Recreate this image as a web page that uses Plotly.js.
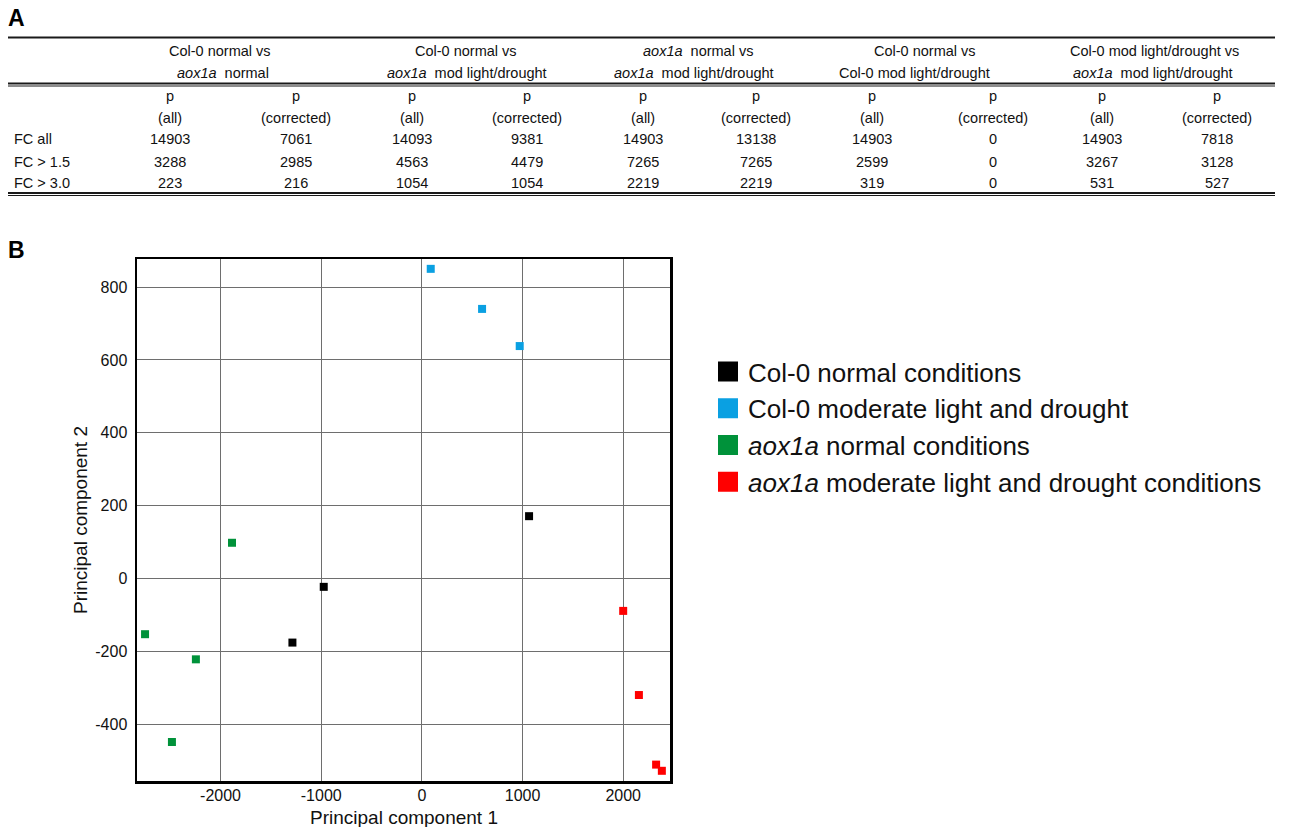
<!DOCTYPE html>
<html><head><meta charset="utf-8">
<script src="https://cdn.plot.ly/plotly-3.0.1.min.js"></script>
<style>html,body{margin:0;padding:0;background:#fff;} #chart{width:1289px;height:827px;}</style>
</head><body><div id="chart"></div>
<script>
// ---- Table A data ----
const comparisonLine1 = ['Col-0 normal vs', 'Col-0 normal vs', '<i>aox1a</i>\u00a0\u00a0normal vs', 'Col-0 normal vs', 'Col-0 mod light/drought vs'];
const comparisonLine2 = ['<i>aox1a</i>\u00a0\u00a0normal', '<i>aox1a</i>\u00a0\u00a0mod light/drought', '<i>aox1a</i>\u00a0\u00a0mod light/drought', 'Col-0 mod light/drought', '<i>aox1a</i>\u00a0\u00a0mod light/drought'];
const pLabels = ['(all)', '(corrected)'];
const rowLabels = ['FC all', 'FC > 1.5', 'FC > 3.0'];
const fcAll = [14903, 7061, 14093, 9381, 14903, 13138, 14903, 0, 14903, 7818];
const fc15  = [3288, 2985, 4563, 4479, 7265, 7265, 2599, 0, 3267, 3128];
const fc30  = [223, 216, 1054, 1054, 2219, 2219, 319, 0, 531, 527];

// ---- PCA data (B) ----
const seriesNames = ['Col-0 normal conditions', 'Col-0 moderate light and drought', '<i>aox1a</i> normal conditions', '<i>aox1a</i> moderate light and drought conditions'];
const col0NormalPC1 = [1065, -975, -1286];
const col0NormalPC2 = [171, -23, -176];
const col0ModPC1 = [88, 598, 972];
const col0ModPC2 = [850, 740, 638];
const aoxNormalPC1 = [-1886, -2750, -2245, -2483];
const aoxNormalPC2 = [98, -153, -222, -449];
const aoxModPC1 = [2000, 2156, 2327, 2384];
const aoxModPC2 = [-89, -320, -511, -528];
const xTickVals = [-2000, -1000, 0, 1000, 2000];
const xTickText = ['-2000', '-1000', '0', '1000', '2000'];
const yTickVals = [-400, -200, 0, 200, 400, 600, 800];
const yTickText = ['-400', '-200', '0', '200', '400', '600', '800'];

// ---- layout geometry (pixels) ----
const W = 1289, H = 827;
const L = 137, R = 670, T = 259, B = 781;
const PW = R - L, PH = B - T;
const px = x => (x - L) / PW;
const py = y => 1 - (y - T) / PH;
const FONT = 'Liberation Sans, Arial, Helvetica, sans-serif';
const colors = ['#000000', '#0aa0e2', '#00923a', '#ff0000'];

const headX1 = [219.5, 465.5, 697.5, 925, 1154];
const headX2 = [223, 466.5, 694, 914.5, 1153];
const colX = [170, 296, 412, 527, 643, 756, 872, 993, 1102, 1217];
const rowY = [139, 161.5, 183];

const ann = [];
const shapes = [];
function txt(x, y, text, opts) {
  ann.push(Object.assign({xref: 'paper', yref: 'paper', x: px(x), y: py(y), text: text,
    showarrow: false, xanchor: 'center', yanchor: 'middle',
    font: {family: FONT, size: 14.5, color: '#111'}}, opts || {}));
}
function hline(y, w) {
  shapes.push({type: 'line', xref: 'paper', yref: 'paper', x0: px(8), x1: px(1275), y0: py(y), y1: py(y),
    line: {color: '#1a1a1a', width: w}});
}
const esc = s => String(s).replace(/>/g, '&gt;');

// panel letters
txt(16, 18, '<b>A</b>', {font: {family: FONT, size: 23, color: '#000'}});
txt(16, 250, '<b>B</b>', {font: {family: FONT, size: 23, color: '#000'}});

// table lines
hline(37.5, 2);
hline(83.5, 1.8); hline(86, 1);
hline(193, 1.8); hline(195.5, 1);

comparisonLine1.forEach((t, i) => txt(headX1[i], 51, t));
comparisonLine2.forEach((t, i) => txt(headX2[i], 73, t));
colX.forEach((x, i) => { txt(x, 96, 'p'); txt(x, 117.5, pLabels[i % 2]); });
rowLabels.forEach((t, r) => txt(12, rowY[r], esc(t), {xanchor: 'left'}));
[fcAll, fc15, fc30].forEach((row, r) => row.forEach((v, c) => txt(colX[c], rowY[r], String(v))));

// axis titles
txt(403.5, 817, 'Principal component 1', {font: {family: FONT, size: 19, color: '#111'}});
txt(80, 520, 'Principal component 2', {textangle: -90, font: {family: FONT, size: 19, color: '#111'}});

const pcX = [col0NormalPC1, col0ModPC1, aoxNormalPC1, aoxModPC1];
const pcY = [col0NormalPC2, col0ModPC2, aoxNormalPC2, aoxModPC2];
const traces = [];
pcX.forEach((xs, i) => {
  traces.push({type: 'scatter', mode: 'markers', x: xs, y: pcY[i], name: seriesNames[i], showlegend: false,
    marker: {symbol: 'square', size: 8, color: colors[i]}, hoverinfo: 'x+y'});
});
// legend entries
seriesNames.forEach((n, i) => {
  traces.push({type: 'scatter', mode: 'markers', x: [null], y: [null], name: n, showlegend: true,
    marker: {symbol: 'square', size: 16, color: colors[i], line: {color: colors[i], width: 4}}});
});

const axisCommon = {showgrid: true, gridcolor: '#6e6e6e', gridwidth: 1, zeroline: false,
  showline: true, linecolor: '#000', linewidth: 2.5, mirror: true, ticks: '',
  tickfont: {family: FONT, size: 16, color: '#111'}, tickmode: 'array', fixedrange: true};

const layout = {
  width: W, height: H,
  margin: {l: L, r: W - R, t: T, b: H - B, pad: 0, autoexpand: false},
  paper_bgcolor: '#fff', plot_bgcolor: '#fff',
  showlegend: true,
  legend: {x: px(708), y: py(348), xanchor: 'left', yanchor: 'top', bgcolor: 'rgba(0,0,0,0)',
    font: {family: FONT, size: 26, color: '#111'}, itemclick: false, itemdoubleclick: false},
  xaxis: Object.assign({}, axisCommon, {range: [-2830, 2465], tickvals: xTickVals, ticktext: xTickText, ticklabelstandoff: -2}),
  yaxis: Object.assign({}, axisCommon, {range: [-556, 877], tickvals: yTickVals, ticktext: yTickText, ticklabelstandoff: 4}),
  annotations: ann,
  shapes: shapes
};
Plotly.newPlot('chart', traces, layout, {displayModeBar: false, staticPlot: true});
</script></body></html>
